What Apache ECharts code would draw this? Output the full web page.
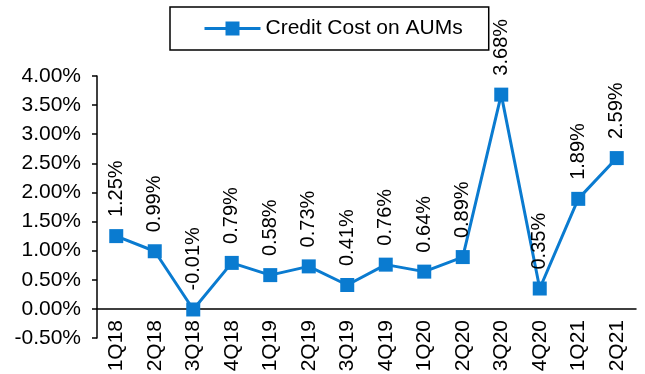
<!doctype html>
<html lang="en">
<head>
    <meta charset="UTF-8">
    <title>Credit Cost on AUMs</title>
    <style>
        *{margin: 0; padding: 0}
        body{background: #fff}
    </style>
</head>
<body>
<div id="block" style="width:645px;height:374px"></div>

<script src="https://cdn.jsdelivr.net/npm/echarts@6/dist/echarts.min.js"></script>
<script>
    // data
    const quarters = ['1Q18', '2Q18', '3Q18', '4Q18', '1Q19', '2Q19', '3Q19', '4Q19',
                      '1Q20', '2Q20', '3Q20', '4Q20', '1Q21', '2Q21'];
    const creditCost = [1.25, 0.99, -0.01, 0.79, 0.58, 0.73, 0.41, 0.76, 0.64, 0.89, 3.68, 0.35, 1.89, 2.59];
    const seriesName = 'Credit Cost on AUMs';

    const blue = '#0A7BD0';
    const font = 'Liberation Sans, Arial, sans-serif';

    const chart = echarts.init(document.getElementById('block'));
    chart.setOption({
        animation: false,
        textStyle: {fontFamily: font},
        grid: {left: 97, right: 9, top: 76, bottom: 36, outerBoundsMode: 'none', containLabel: false},
        legend: {
            left: 170, top: 7,
            padding: [11, 26, 11, 33],
            borderColor: '#000', borderWidth: 1.5,
            itemWidth: 56, itemHeight: 17.5,
            lineStyle: {width: 3},
            textStyle: {fontSize: 21, color: '#000', fontFamily: font},
            data: [seriesName]
        },
        xAxis: {
            type: 'category',
            data: quarters,
            axisLine: {onZero: true, lineStyle: {color: '#000', width: 1.5}},
            axisTick: {length: 5, lineStyle: {color: '#000', width: 1.5}},
            // labels sit just under the zero line, not under the grid
            axisLabel: {rotate: 90, margin: -18, fontSize: 21, color: '#000', interval: 0}
        },
        yAxis: {
            type: 'value',
            min: -0.5, max: 4, interval: 0.5,
            splitLine: {show: false},
            axisLine: {show: true, lineStyle: {color: '#000', width: 1.5}},
            axisTick: {show: true, length: 5, lineStyle: {color: '#000', width: 1.5}},
            axisLabel: {
                margin: 16, fontSize: 21, color: '#000',
                formatter: v => v.toFixed(2) + '%'
            }
        },
        series: [{
            name: seriesName,
            type: 'line',
            data: creditCost,
            symbol: 'rect',
            symbolSize: 14,
            color: blue,
            lineStyle: {color: blue, width: 3},
            itemStyle: {color: blue},
            label: {
                show: true,
                position: 'top',
                distance: 12,
                rotate: 90,
                align: 'left',
                verticalAlign: 'middle',
                fontSize: 20,
                color: '#000',
                formatter: p => p.value.toFixed(2) + '%'
            }
        }]
    });
</script>
</body>
</html>
